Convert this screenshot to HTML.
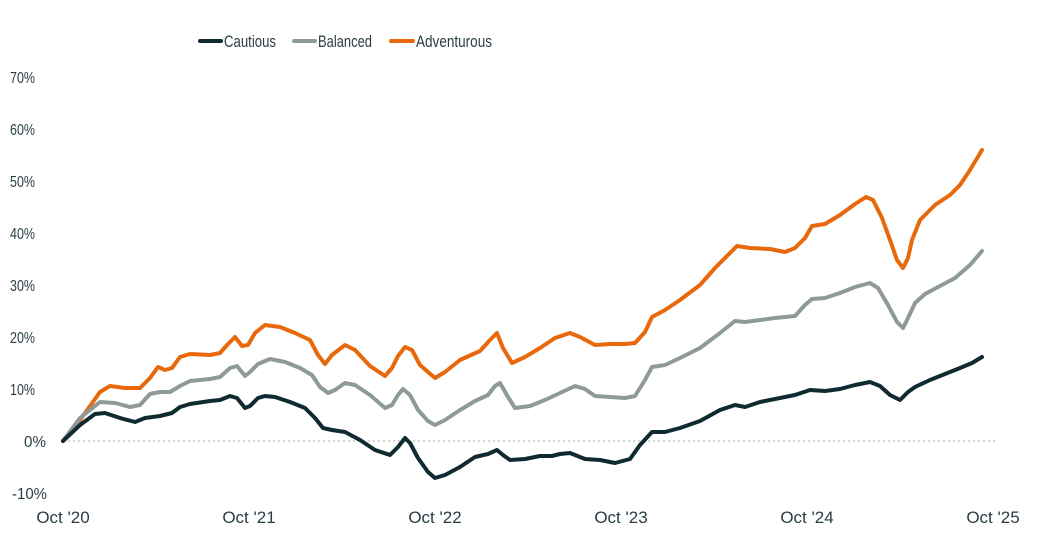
<!DOCTYPE html>
<html><head><meta charset="utf-8"><style>
body{margin:0;background:#fff;}
svg{display:block;font-family:"Liberation Sans",sans-serif;}
</style></head><body>
<svg width="1050" height="550" viewBox="0 0 1050 550">
<g fill="#2a3d45" font-size="16">
<text x="10" y="83" textLength="25" lengthAdjust="spacingAndGlyphs">70%</text><text x="10" y="135" textLength="25" lengthAdjust="spacingAndGlyphs">60%</text><text x="10" y="187" textLength="25" lengthAdjust="spacingAndGlyphs">50%</text>
<text x="10" y="239" textLength="25" lengthAdjust="spacingAndGlyphs">40%</text><text x="10" y="291" textLength="25" lengthAdjust="spacingAndGlyphs">30%</text><text x="10" y="343" textLength="25" lengthAdjust="spacingAndGlyphs">20%</text>
<text x="10" y="395" textLength="25" lengthAdjust="spacingAndGlyphs">10%</text><text x="24" y="447" textLength="22" lengthAdjust="spacingAndGlyphs">0%</text><text x="12" y="499" textLength="35" lengthAdjust="spacingAndGlyphs">-10%</text>
</g>
<g fill="#2a3d45" font-size="17" text-anchor="middle">
<text x="63" y="523">Oct '20</text><text x="249" y="523">Oct '21</text><text x="435" y="523">Oct '22</text>
<text x="621" y="523">Oct '23</text><text x="807" y="523">Oct '24</text><text x="993" y="523">Oct '25</text>
</g>
<line x1="63" y1="441" x2="996" y2="441" stroke="#bbb" stroke-width="1.2" stroke-dasharray="2,3"/>
<g stroke-width="4" stroke-linecap="round"><line x1="200" y1="41" x2="221" y2="41" stroke="#0f2a30"/><line x1="294" y1="41" x2="315" y2="41" stroke="#8e9a9a"/><line x1="391" y1="41" x2="413" y2="41" stroke="#e8690c"/></g>
<g fill="#2a3d45" font-size="17"><text x="224" y="47" textLength="52" lengthAdjust="spacingAndGlyphs">Cautious</text><text x="318" y="47" textLength="54" lengthAdjust="spacingAndGlyphs">Balanced</text><text x="416" y="47" textLength="76" lengthAdjust="spacingAndGlyphs">Adventurous</text></g>
<g fill="none" stroke-width="4" stroke-linejoin="round" stroke-linecap="round">
<polyline stroke="#e8690c" points="63,441 80,420 100,392 110,386 125,388 140,388 150,378 158,367 165,370 172,368 180,357 190,354 210,355 220,353 228,344 235,337 242,346 248,345 255,333 265,325 280,327 295,333 310,340 318,355 325,364 332,355 345,345 355,350 370,366 385,376 392,368 398,356 405,347 412,350 420,365 428,372 435,378 445,372 460,360 480,351 490,340 497,333 503,348 512,363 525,357 540,348 555,338 570,333 580,337 595,345 610,344 625,344 635,343 645,332 652,317 665,310 680,300 700,285 715,268 730,253 737,246 750,248 770,249 785,252 795,248 805,238 812,226 825,224 840,215 855,204 866,197 873,200 882,218 890,240 897,260 903,268 908,258 912,240 920,220 935,205 950,195 960,185 970,170 982,150"/>
<polyline stroke="#8e9a9a" points="63,441 80,418 100,402 115,403 130,407 140,405 150,394 160,392 170,392 180,386 190,381 210,379 220,377 230,368 237,366 245,376 250,372 258,364 270,359 285,362 300,368 312,375 320,387 328,393 335,390 345,383 355,385 370,395 385,408 392,405 398,395 403,389 410,395 418,410 428,421 435,425 445,420 460,410 475,401 488,395 495,386 500,383 508,397 515,408 530,406 545,400 560,393 575,386 585,389 595,396 610,397 625,398 635,396 645,380 652,367 665,365 680,358 700,348 720,333 735,321 745,322 760,320 775,318 795,316 805,305 812,299 825,298 840,293 855,287 870,283 878,288 888,305 897,322 903,328 908,318 915,303 925,294 940,286 955,278 970,265 982,251"/>
<polyline stroke="#0f2a30" points="63,441 80,425 95,414 105,413 120,418 135,422 145,418 160,416 172,413 180,407 190,404 210,401 220,400 230,396 237,398 245,408 250,406 258,398 265,396 275,397 290,402 305,408 315,418 323,428 332,430 345,432 360,440 375,450 390,455 398,447 405,438 410,443 418,458 428,472 435,478 445,475 460,467 475,457 488,454 497,450 503,455 510,460 525,459 540,456 552,456 560,454 570,453 585,459 600,460 615,463 630,459 640,445 652,432 665,432 680,428 700,421 720,410 735,405 745,407 760,402 775,399 795,395 810,390 825,391 840,389 855,385 870,382 880,386 890,395 900,400 908,392 915,387 930,380 945,374 960,368 972,363 982,357"/>
</g>
</svg>
</body></html>
